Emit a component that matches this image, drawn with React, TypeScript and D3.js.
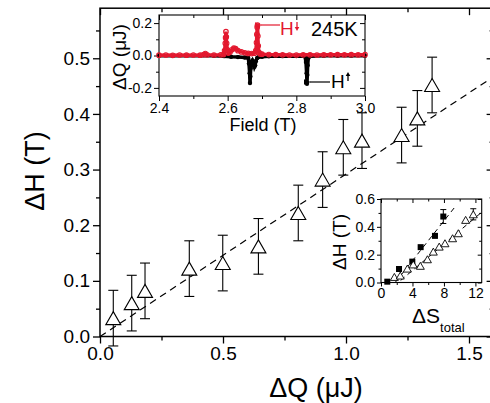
import React, { useEffect, useRef } from 'react'
import * as d3 from 'd3'

const FONT = '"Liberation Sans", Arial, Helvetica, sans-serif'
const RED = '#e3192f'

// main panel: ΔH vs ΔQ
const dQ = [0.054, 0.129, 0.183, 0.363, 0.499, 0.644, 0.806, 0.905, 0.989, 1.065, 1.226, 1.29, 1.35]
const dH = [0.033, 0.060, 0.082, 0.122, 0.132, 0.162, 0.222, 0.282, 0.340, 0.352, 0.362, 0.392, 0.452]
const dHErr = [0.05, 0.05, 0.05, 0.05, 0.05, 0.05, 0.05, 0.05, 0.05, 0.05, 0.05, 0.05, 0.05]
const fitQ = [0, 1.6]
const fitH = [0, 0.467]
const mainXMajor = [0, 0.5, 1.0, 1.5]
const mainXMinor = [0.25, 0.75, 1.25]
const mainYMajor = [0, 0.1, 0.2, 0.3, 0.4, 0.5]
const mainYMinor = [0.05, 0.15, 0.25, 0.35, 0.45, 0.55]

// top inset: ΔQ vs field at 245K
const fieldDown = [2.400, 2.420, 2.440, 2.460, 2.480, 2.500, 2.520, 2.530, 2.535, 2.540, 2.560, 2.580, 2.588, 2.591, 2.593, 2.594, 2.595, 2.596, 2.597, 2.599, 2.602, 2.607, 2.612, 2.618, 2.623, 2.630, 2.640, 2.650, 2.660, 2.670, 2.678, 2.682, 2.684, 2.685, 2.686, 2.687, 2.688, 2.689, 2.691, 2.695, 2.700, 2.720, 2.740, 2.760, 2.780, 2.800, 2.820, 2.840, 2.860, 2.880, 2.900, 2.920, 2.940, 2.960, 2.980, 3.000]
const dQDown = [0.002, 0.003, 0.001, 0.003, 0.002, 0.003, 0.002, 0.006, 0.012, 0.004, 0.003, 0.004, 0.006, 0.030, 0.075, 0.110, 0.147, 0.115, 0.075, 0.035, 0.015, 0.022, 0.035, 0.045, 0.042, 0.030, 0.022, 0.017, 0.013, 0.012, 0.014, 0.030, 0.080, 0.130, 0.175, 0.187, 0.120, 0.060, 0.020, 0.010, 0.008, 0.006, 0.005, 0.004, 0.003, 0.003, 0.004, 0.004, 0.003, 0.004, 0.004, 0.005, 0.004, 0.005, 0.004, 0.005]
const fieldUp = [2.400, 2.440, 2.480, 2.520, 2.560, 2.590, 2.610, 2.630, 2.650, 2.660, 2.662, 2.664, 2.665, 2.666, 2.667, 2.669, 2.672, 2.675, 2.678, 2.680, 2.682, 2.686, 2.690, 2.700, 2.720, 2.760, 2.800, 2.825, 2.828, 2.830, 2.831, 2.832, 2.833, 2.835, 2.840, 2.880, 2.920, 2.960, 3.000]
const dQUp = [-0.002, -0.001, -0.002, -0.001, -0.002, -0.004, -0.008, -0.010, -0.012, -0.015, -0.050, -0.110, -0.170, -0.130, -0.080, -0.040, -0.030, -0.045, -0.070, -0.060, -0.035, -0.015, -0.010, -0.008, -0.005, -0.004, -0.003, -0.005, -0.040, -0.110, -0.175, -0.120, -0.060, -0.015, -0.004, -0.002, -0.002, -0.001, -0.002]
const topXMajor = [2.4, 2.6, 2.8, 3.0]
const topXMinor = [2.5, 2.7, 2.9]
const topYMajor = [-0.2, 0, 0.2]
const topYMinor = [-0.1, 0.1]

// bottom inset: ΔH vs ΔS_total
const sqS = [0.8, 2.29, 3.98, 5.04, 6.86, 7.92]
const sqH = [0.006, 0.097, 0.15, 0.254, 0.335, 0.474]
const sqErr = [0, 0, 0, 0, 0, 0.05]
const triS = [1.7, 2.45, 3.35, 4.1, 5.0, 5.9, 6.65, 7.4, 8.13, 9.1, 9.83, 10.76, 11.73]
const triH = [0.04, 0.05, 0.10, 0.13, 0.12, 0.167, 0.222, 0.258, 0.282, 0.318, 0.354, 0.45, 0.49]
const triErr = [0, 0, 0, 0, 0, 0, 0, 0, 0, 0, 0, 0, 0.04]
const sqFitS = [1.8, 9.5]
const sqFitH = [0.0, 0.55]
const triFitS = [2.5, 12.8]
const triFitH = [0.015, 0.505]
const botXMajor = [0, 4, 8, 12]
const botXMinor = [2, 6, 10]
const botYMajor = [0, 0.2, 0.4, 0.6]
const botYMinor = [0.1, 0.3, 0.5]

const tri = (w, h) => `M0,${-h / 2}L${w / 2},${h / 2}L${-w / 2},${h / 2}Z`

function frame(g, x, y, o) {
  const [x0, x1] = x.range()
  const [y0, y1] = y.range()
  g.append('rect')
    .attr('x', x0).attr('y', y1)
    .attr('width', x1 - x0).attr('height', y0 - y1)
    .attr('fill', o.fill).attr('stroke', '#000').attr('stroke-width', o.sw)
  const none = () => ''
  const add = (axis, tr, vals, size, fmt) => {
    const a = g.append('g').attr('transform', tr)
      .call(axis.tickValues(vals).tickSize(size).tickSizeOuter(0).tickPadding(o.pad).tickFormat(fmt))
    a.select('.domain').remove()
    a.selectAll('line').attr('stroke-width', o.tw)
    a.selectAll('text').attr('font-size', o.fs).attr('font-family', FONT).attr('fill', '#000')
  }
  add(d3.axisBottom(x), `translate(0,${y0})`, o.xMajor, o.major, o.xFmt)
  add(d3.axisBottom(x), `translate(0,${y0})`, o.xMinor, o.minor, none)
  add(d3.axisLeft(y), `translate(${x0},0)`, o.yMajor, o.major, o.yFmt)
  add(d3.axisLeft(y), `translate(${x0},0)`, o.yMinor, o.minor, none)
  // mirrored ticks, pointing inward
  add(d3.axisBottom(x), `translate(0,${y1})`, o.xMajor, o.major, none)
  add(d3.axisBottom(x), `translate(0,${y1})`, o.xMinor, o.minor, none)
  add(d3.axisLeft(y), `translate(${x1},0)`, o.yMajor, o.major, none)
  add(d3.axisLeft(y), `translate(${x1},0)`, o.yMinor, o.minor, none)
}

function errorBars(g, xs, ys, es, x, y, cap, sw) {
  xs.forEach((v, i) => {
    if (!es[i]) return
    const cx = x(v)
    const lo = y(ys[i] - es[i])
    const hi = y(ys[i] + es[i])
    g.append('line').attr('x1', cx).attr('x2', cx).attr('y1', lo).attr('y2', hi).attr('stroke', '#000').attr('stroke-width', sw)
    g.append('line').attr('x1', cx - cap).attr('x2', cx + cap).attr('y1', lo).attr('y2', lo).attr('stroke', '#000').attr('stroke-width', sw)
    g.append('line').attr('x1', cx - cap).attr('x2', cx + cap).attr('y1', hi).attr('y2', hi).attr('stroke', '#000').attr('stroke-width', sw)
  })
}

// small vertical arrow next to an "H" label
function miniArrow(g, cx, yTail, yTip, col) {
  const dir = yTip > yTail ? 1 : -1
  g.append('line').attr('x1', cx).attr('x2', cx).attr('y1', yTail).attr('y2', yTip - dir * 3)
    .attr('stroke', col).attr('stroke-width', 1.3)
  g.append('path')
    .attr('d', `M${cx - 2.3},${yTip - dir * 4}L${cx + 2.3},${yTip - dir * 4}L${cx},${yTip}Z`)
    .attr('fill', col)
}

const App = () => {
  const svgRef = useRef(null)

  useEffect(() => {
    const svg = d3.select(svgRef.current)
    svg.selectAll('*').remove()
    const f1 = (d) => d.toFixed(1)

    // ---- main panel
    const x = d3.scaleLinear().domain([0, 1.6]).range([100, 493.6])
    const y = d3.scaleLinear().domain([0, 0.59]).range([336.5, 8.2])
    const main = svg.append('g')
    frame(main, x, y, {
      fill: 'none', sw: 1.5, tw: 1.3, fs: 19, pad: 3, major: 7, minor: 4,
      xMajor: mainXMajor, xMinor: mainXMinor, yMajor: mainYMajor, yMinor: mainYMinor, xFmt: f1, yFmt: f1,
    })
    const fit = d3.line().x((d) => x(d[0])).y((d) => y(d[1]))
    main.append('path').attr('d', fit(d3.zip(fitQ, fitH)))
      .attr('fill', 'none').attr('stroke', '#000').attr('stroke-width', 1.2).attr('stroke-dasharray', '7,5')
    errorBars(main, dQ, dH, dHErr, x, y, 5, 1.1)
    main.selectAll('.tri').data(d3.zip(dQ, dH)).join('path')
      .attr('class', 'tri')
      .attr('transform', (d) => `translate(${x(d[0])},${y(d[1])})`)
      .attr('d', tri(15, 13))
      .attr('fill', '#fff').attr('stroke', '#000').attr('stroke-width', 1.1)
    main.append('text').attr('transform', 'translate(44,171) rotate(-90)')
      .attr('text-anchor', 'middle').attr('font-family', FONT).attr('font-size', 27).text('ΔH (T)')
    main.append('text').attr('x', 316).attr('y', 397)
      .attr('text-anchor', 'middle').attr('font-family', FONT).attr('font-size', 27).text('ΔQ (μJ)')

    // ---- top inset
    const ix = d3.scaleLinear().domain([2.4, 3.0]).range([159, 365])
    const iy = d3.scaleLinear().domain([-0.25, 0.25]).range([96, 15])
    const top = svg.append('g')
    frame(top, ix, iy, {
      fill: '#fff', sw: 1.1, tw: 1, fs: 14, pad: 2, major: 5, minor: 3,
      xMajor: topXMajor, xMinor: topXMinor, yMajor: topYMajor, yMinor: topYMinor, xFmt: f1, yFmt: f1,
    })
    const trace = d3.line().x((d) => ix(d[0])).y((d) => iy(d[1]))
    const up = d3.zip(fieldUp, dQUp)
    const down = d3.zip(fieldDown, dQDown)
    top.append('path').attr('d', trace(up)).attr('fill', 'none').attr('stroke', '#000').attr('stroke-width', 3.5)
    top.selectAll('.up').data(up).join('circle').attr('class', 'up')
      .attr('cx', (d) => ix(d[0])).attr('cy', (d) => iy(d[1])).attr('r', 2.2).attr('fill', '#000')
    top.append('path').attr('d', trace(down)).attr('fill', 'none').attr('stroke', RED).attr('stroke-width', 3.5)
    top.selectAll('.down').data(down).join('circle').attr('class', 'down')
      .attr('cx', (d) => ix(d[0])).attr('cy', (d) => iy(d[1])).attr('r', 2.3)
      .attr('fill', 'none').attr('stroke', RED).attr('stroke-width', 1.1)

    const defs = svg.append('defs')
    const head = (id, col) => defs.append('marker').attr('id', id)
      .attr('viewBox', '0 0 10 10').attr('refX', 1).attr('refY', 5)
      .attr('markerWidth', 6).attr('markerHeight', 6).attr('orient', 'auto-start-reverse')
      .append('path').attr('d', 'M0,5L10,1L10,9Z').attr('fill', col)
    head('ahRed', RED)
    head('ahBlack', '#000')
    top.append('line').attr('x1', 261).attr('x2', 280).attr('y1', 25).attr('y2', 25)
      .attr('stroke', RED).attr('stroke-width', 1.2).attr('marker-start', 'url(#ahRed)')
    top.append('text').attr('x', 280).attr('y', 35).attr('font-family', FONT).attr('font-size', 19).attr('fill', RED).text('H')
    miniArrow(top, 297, 22, 31, RED)
    top.append('text').attr('x', 311).attr('y', 36).attr('font-family', FONT).attr('font-size', 20).text('245K')
    top.append('line').attr('x1', 310).attr('x2', 330).attr('y1', 82).attr('y2', 82)
      .attr('stroke', '#000').attr('stroke-width', 1.2).attr('marker-start', 'url(#ahBlack)')
    top.append('text').attr('x', 331).attr('y', 88).attr('font-family', FONT).attr('font-size', 19).text('H')
    miniArrow(top, 348, 81, 72, '#000')
    top.append('text').attr('x', 263).attr('y', 131).attr('text-anchor', 'middle')
      .attr('font-family', FONT).attr('font-size', 18).text('Field (T)')
    top.append('text').attr('transform', 'translate(126,57) rotate(-90)').attr('text-anchor', 'middle')
      .attr('font-family', FONT).attr('font-size', 19).text('ΔQ (μJ)')

    // ---- bottom inset
    const bx = d3.scaleLinear().domain([0, 12.8]).range([381, 481.7])
    const by = d3.scaleLinear().domain([0, 0.6]).range([282.5, 199])
    const bot = svg.append('g')
    frame(bot, bx, by, {
      fill: '#fff', sw: 1.1, tw: 1, fs: 14, pad: 2, major: 4, minor: 2.5,
      xMajor: botXMajor, xMinor: botXMinor, yMajor: botYMajor, yMinor: botYMinor,
      xFmt: (d) => String(d), yFmt: f1,
    })
    const bl = d3.line().x((d) => bx(d[0])).y((d) => by(d[1]))
    bot.append('path').attr('d', bl(d3.zip(sqFitS, sqFitH)))
      .attr('fill', 'none').attr('stroke', '#000').attr('stroke-width', 1).attr('stroke-dasharray', '5,4')
    bot.append('path').attr('d', bl(d3.zip(triFitS, triFitH)))
      .attr('fill', 'none').attr('stroke', '#000').attr('stroke-width', 1).attr('stroke-dasharray', '5,4')
    errorBars(bot, sqS, sqH, sqErr, bx, by, 3, 1)
    errorBars(bot, triS, triH, triErr, bx, by, 3, 1)
    bot.selectAll('.sq').data(d3.zip(sqS, sqH)).join('rect').attr('class', 'sq')
      .attr('x', (d) => bx(d[0]) - 3).attr('y', (d) => by(d[1]) - 3)
      .attr('width', 6).attr('height', 6).attr('fill', '#000')
    bot.selectAll('.btri').data(d3.zip(triS, triH)).join('path').attr('class', 'btri')
      .attr('transform', (d) => `translate(${bx(d[0])},${by(d[1])})`)
      .attr('d', tri(8, 7)).attr('fill', '#fff').attr('stroke', '#000').attr('stroke-width', 0.9)
    bot.append('text').attr('transform', 'translate(346,242) rotate(-90)').attr('text-anchor', 'middle')
      .attr('font-family', FONT).attr('font-size', 19).text('ΔH (T)')
    bot.append('text').attr('x', 412).attr('y', 323).attr('font-family', FONT).attr('font-size', 21)
      .text('ΔS').append('tspan').attr('font-size', 13).attr('dy', 9).text('total')
  }, [])

  return (
    <svg ref={svgRef} width={490} height={403} viewBox="0 0 490 403"
      style={{ position: 'absolute', left: 0, top: 0, background: '#fff' }} />
  )
}

export default App
